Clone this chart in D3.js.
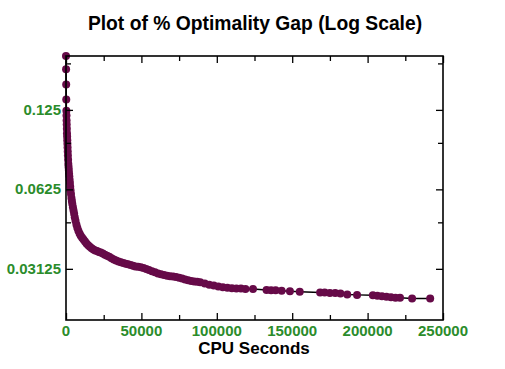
<!DOCTYPE html>
<html>
<head>
<meta charset="utf-8">
<script src="https://cdn.jsdelivr.net/npm/d3@7"></script>
<style>
  body { margin: 0; background: #fff; }
  text { font-family: "Liberation Sans", Arial, sans-serif; font-weight: bold; }
</style>
</head>
<body>
<div id="chart"></div>
<script>
// data
var cpuSeconds = [0, 60, 120, 180, 250, 320, 400, 480, 560, 650, 750, 850, 950, 1050, 1150, 1250,
  1400, 1550, 1700, 1850, 2000, 2200, 2400, 2600, 2800, 3000, 3300, 3600, 3900, 4200, 4600, 5000,
  5400, 5800, 6300, 6900, 7500, 8200, 9000, 9800, 10700, 11600, 12600, 13600, 14700, 15800, 17000,
  18200, 19400, 20600, 21800, 23000, 24400, 25800, 27200, 28700, 30200, 31700, 33200, 34800, 36400,
  38000, 39600, 41200, 42800, 44400, 46000, 47800, 49600, 51400, 53200, 55000, 57000, 59000, 61000,
  63000, 65000, 67000, 69000, 71000, 73000, 75000, 77000, 79000, 81000, 83000, 85000, 87000, 89000,
  92000, 95000, 98000, 101000, 104000, 107000, 110000, 113000, 116000, 119000, 124000, 133000,
  136000, 139000, 143000, 148500, 155000, 168500, 171500, 175000, 178500, 182000, 186500, 193000,
  203500, 206500, 209500, 212500, 215500, 218500, 221500, 229500, 241500]
var gapPct = [0.200, 0.178, 0.156, 0.137, 0.124, 0.119, 0.114, 0.110, 0.106, 0.102, 0.099, 0.096,
  0.093, 0.090, 0.087, 0.084, 0.081, 0.078, 0.076, 0.074, 0.072, 0.070, 0.068, 0.066, 0.064, 0.062,
  0.060, 0.058, 0.0565, 0.055, 0.0535, 0.052, 0.0505, 0.049, 0.0475, 0.046, 0.0447, 0.0436, 0.0425,
  0.0417, 0.0410, 0.0404, 0.0397, 0.0390, 0.0384, 0.0379, 0.0374, 0.0370, 0.0367, 0.0365, 0.0362,
  0.0360, 0.0357, 0.0353, 0.0350, 0.0347, 0.0343, 0.0339, 0.0336, 0.0333, 0.0331, 0.0329, 0.0327,
  0.0325, 0.0323, 0.0321, 0.0319, 0.0318, 0.0317, 0.0315, 0.0312, 0.0309, 0.0306, 0.0303, 0.0300,
  0.0298, 0.0296, 0.0294, 0.0293, 0.0292, 0.0291, 0.0289, 0.0287, 0.0285, 0.0283, 0.0281, 0.0280,
  0.0279, 0.0278, 0.0275, 0.0272, 0.0270, 0.0268, 0.0266, 0.0265, 0.0264, 0.0263, 0.0263, 0.0262,
  0.0262, 0.0260, 0.0259, 0.0259, 0.0258, 0.0257, 0.0256, 0.0254, 0.0254, 0.0253, 0.0253, 0.0252,
  0.0250, 0.0249, 0.0248, 0.0247, 0.0246, 0.0245, 0.0244, 0.0243, 0.0243, 0.0241, 0.0241]

var xTicks = [0, 50000, 100000, 150000, 200000, 250000]
var xMinorTicks = [25000, 75000, 125000, 175000, 225000]
var yTicks = [0.125, 0.0625, 0.03125]
var yMinorTicks = [0.1875, 0.09375, 0.046875]

var width = 505,
    height = 369,
    margin = {top: 56, right: 62, bottom: 49, left: 66}

var green = "#2b8c2b",
    markColor = "#660a48"

var svg = d3.select("#chart")
  .append("svg")
    .attr("width", width)
    .attr("height", height)

var x = d3.scaleLinear()
  .domain([0, 250000])
  .range([margin.left, width - margin.right])

var y = d3.scaleLog()
  .base(2)
  .domain([0.02, 0.2])
  .range([height - margin.bottom, margin.top])

var data = cpuSeconds.map(function(c, i) { return {x: c, y: gapPct[i]} })

// title
svg.append("text")
  .attr("x", 255)
  .attr("y", 30)
  .attr("text-anchor", "middle")
  .style("font-size", "19.3px")
  .text("Plot of % Optimality Gap (Log Scale)")

// line + markers
svg.append("path")
  .datum(data)
  .attr("fill", "none")
  .attr("stroke", "#000")
  .attr("stroke-width", 1.5)
  .attr("d", d3.line().x(d => x(d.x)).y(d => y(d.y)))

svg.selectAll("circle.pt")
  .data(data)
  .enter()
  .append("circle")
  .attr("class", "pt")
  .attr("cx", d => x(d.x))
  .attr("cy", d => y(d.y))
  .attr("r", 4)
  .attr("fill", markColor)

// axes: inward ticks on all four sides
function tickAxis(axis, ticks, size) {
  return axis.tickValues(ticks).tickSize(size).tickFormat("")
}
var H = height - margin.top - margin.bottom,
    W = width - margin.left - margin.right

svg.append("g").attr("transform", "translate(0," + (height - margin.bottom) + ")")
  .call(tickAxis(d3.axisTop(x), xTicks, 7))
svg.append("g").attr("transform", "translate(0," + (height - margin.bottom) + ")")
  .call(tickAxis(d3.axisTop(x), xMinorTicks, 5))
svg.append("g").attr("transform", "translate(0," + margin.top + ")")
  .call(tickAxis(d3.axisBottom(x), xTicks, 7))
svg.append("g").attr("transform", "translate(0," + margin.top + ")")
  .call(tickAxis(d3.axisBottom(x), xMinorTicks, 5))
svg.append("g").attr("transform", "translate(" + margin.left + ",0)")
  .call(tickAxis(d3.axisRight(y), yTicks, 7))
svg.append("g").attr("transform", "translate(" + margin.left + ",0)")
  .call(tickAxis(d3.axisRight(y), yMinorTicks, 5))
svg.append("g").attr("transform", "translate(" + (width - margin.right) + ",0)")
  .call(tickAxis(d3.axisLeft(y), yTicks, 7))
svg.append("g").attr("transform", "translate(" + (width - margin.right) + ",0)")
  .call(tickAxis(d3.axisLeft(y), yMinorTicks, 5))

svg.selectAll(".domain").remove()
svg.selectAll(".tick line").attr("stroke", "#000").attr("stroke-width", 1.3)

// frame
svg.append("rect")
  .attr("x", margin.left)
  .attr("y", margin.top)
  .attr("width", W)
  .attr("height", H)
  .attr("fill", "none")
  .attr("stroke", "#000")
  .attr("stroke-width", 1.6)

// tick labels
svg.selectAll("text.xl")
  .data(xTicks)
  .enter()
  .append("text")
  .attr("class", "xl")
  .attr("x", d => x(d))
  .attr("y", 336)
  .attr("text-anchor", "middle")
  .attr("fill", green)
  .style("font-size", "15px")
  .text(d => d)

svg.selectAll("text.yl")
  .data(yTicks)
  .enter()
  .append("text")
  .attr("class", "yl")
  .attr("x", margin.left - 5)
  .attr("y", d => y(d) + 5)
  .attr("text-anchor", "end")
  .attr("fill", green)
  .style("font-size", "15px")
  .text(d => d)

svg.append("text")
  .attr("x", 254)
  .attr("y", 354)
  .attr("text-anchor", "middle")
  .style("font-size", "17px")
  .text("CPU Seconds")
</script>
</body>
</html>
